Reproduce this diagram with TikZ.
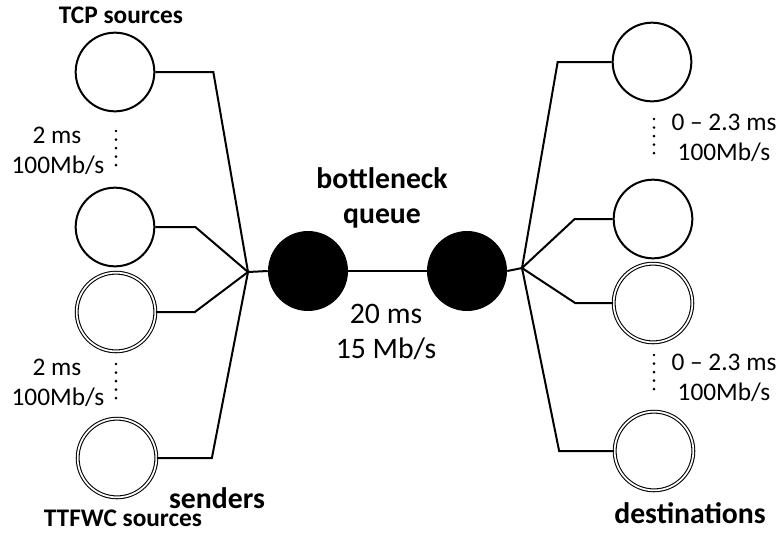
\documentclass[tikz,border=0pt]{standalone}
\usepackage{fontspec}
\setmainfont{Carlito}

\begin{document}
\begin{tikzpicture}[x=0.75pt, y=-0.75pt,
    every node/.style={font=\fontsize{19}{22.5}\selectfont},
    host/.style={circle, draw, line width=1.5pt, minimum size=59pt, inner sep=0pt},
    dhost/.style={circle, draw, double, double distance=1.3pt, line width=0.8pt, minimum size=59pt, inner sep=0pt},
    router/.style={circle, fill=black, minimum size=60pt, inner sep=0pt},
    link/.style={line width=1.5pt, line join=miter},
    dots/.style={line width=2.2pt, line cap=round, dash pattern=on 0pt off 6.4pt},
    big/.style={font=\fontsize{22.3}{26.25}\selectfont},
    bigbold/.style={font=\fontsize{22.3}{26.25}\selectfont\bfseries}]
    \useasboundingbox (0,0) rectangle (784,551);

    % senders
    \node[host]  (lc1) at (115,72) {};
    \node[host]  (lc2) at (115,227) {};
    \node[dhost] (lc3) at (116,312) {};
    \node[dhost] (lc4) at (117,458) {};

    % destinations
    \node[host]  (rc1) at (652,62) {};
    \node[host]  (rc2) at (653,219) {};
    \node[dhost] (rc3) at (653,303) {};
    \node[dhost] (rc4) at (654,451) {};

    % bottleneck
    \node[router] (q1) at (308,271) {};
    \node[router] (q2) at (467,271) {};
    \coordinate (jl) at (248,272);
    \coordinate (jr) at (522,268);

    % links
    \draw[link] (lc1.east) -- ++(58,0) -- (jl);
    \draw[link] (lc2.east) -- ++(40,0) -- (jl);
    \draw[link] (lc3.east) -- ++(39,0) -- (jl);
    \draw[link] (lc4.east) -- ++(55,0) -- (jl);
    \draw[link] (jl) -- (q1.west);
    \draw[link] (q1.east) -- (q2.west);
    \draw[link] (q2.east) -- (jr);
    \draw[link] (rc1.west) -- ++(-54,0) -- (jr);
    \draw[link] (rc2.west) -- ++(-38,0) -- (jr);
    \draw[link] (rc3.west) -- ++(-38,0) -- (jr);
    \draw[link] (rc4.west) -- ++(-55,0) -- (jr);

    % dotted gaps
    \draw[dots] (116,131) -- (116,170);
    \draw[dots] (116,364) -- (116,403);
    \draw[dots] (654,119) -- (654,158);
    \draw[dots] (654,355) -- (654,394);

    % labels
    \node[font=\fontsize{19}{22.5}\selectfont\bfseries, anchor=base] (tcp) at (121,23) {TCP sources};
    \node[font=\fontsize{19}{22.5}\selectfont\bfseries, anchor=base] (ttfwc) at (123,526) {TTFWC sources};
    \node[bigbold, anchor=base] (snd) at (217,508) {senders};
    \node[bigbold, anchor=base] (dst) at (690,523) {destinations};
    \node[bigbold, anchor=base] (bn) at (382,188) {bottleneck};
    \node[bigbold, anchor=base] (qu) at (382,223) {queue};
    \node[big, anchor=base] (dl1) at (386,323) {20 ms};
    \node[big, anchor=base] (bw1) at (386,358) {15 Mb/s};

    \node[anchor=base] (dl2) at (57,143) {2 ms};
    \node[anchor=base] (bw2) at (58,173) {100Mb/s};
    \node[anchor=base] (dl3) at (57,375) {2 ms};
    \node[anchor=base] (bw3) at (58,405) {100Mb/s};
    \node[anchor=base] (dl4) at (724,130) {0 -- 2.3 ms};
    \node[anchor=base] (bw4) at (724,160) {100Mb/s};
    \node[anchor=base] (dl5) at (724,370) {0 -- 2.3 ms};
    \node[anchor=base] (bw5) at (724,400) {100Mb/s};
\end{tikzpicture}
\end{document}
